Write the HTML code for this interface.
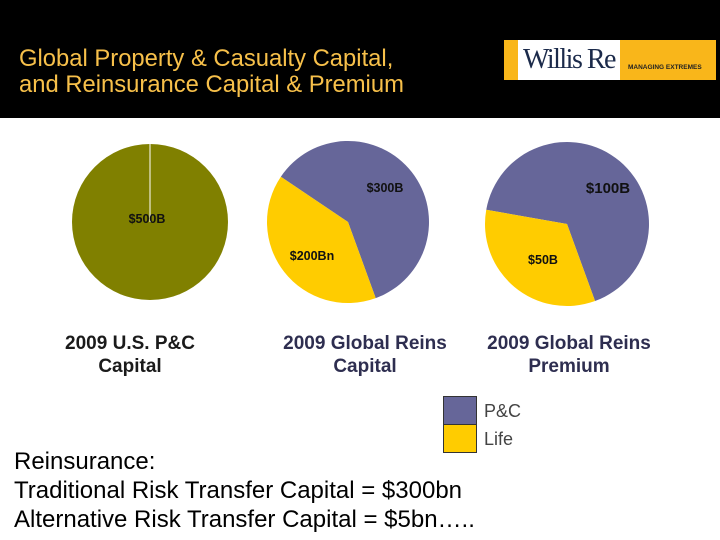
<!DOCTYPE html>
<html><head><meta charset="utf-8"><style>
body{margin:0;width:720px;height:540px;overflow:hidden;background:#fff;font-family:"Liberation Sans",sans-serif;position:relative}
.hdr{position:absolute;left:0;top:0;width:720px;height:118px;background:#000}
.title{position:absolute;left:19px;top:46px;color:#f7c04a;font-size:23.8px;line-height:26px;white-space:nowrap}
.lbl{position:absolute;font-weight:bold;font-size:19px;line-height:23px;text-align:center;white-space:nowrap}
.bottom{position:absolute;left:14px;top:447px;font-size:24px;line-height:29px;color:#000;white-space:nowrap}
</style></head><body>
<div class="hdr"></div>
<div class="title">Global Property &amp; Casualty Capital,<br>and Reinsurance Capital &amp; Premium</div>
<div style="position:absolute;left:504px;top:40px;width:212px;height:40px;background:#f9b61a">
 <div style="position:absolute;left:14px;top:0;width:102px;height:40px;background:#fff;font-family:'Liberation Serif',serif;font-size:28px;color:#1b2a4a;line-height:40px;text-align:center;letter-spacing:-1.5px;white-space:nowrap">Willis Re</div>
 <div style="position:absolute;left:124px;top:24px;font-size:6.5px;font-weight:bold;color:#222;white-space:nowrap">MANAGING EXTREMES</div>
</div>
<svg id="chart" width="720" height="540" style="position:absolute;left:0;top:0"></svg>
<div class="lbl" style="left:40px;top:332px;width:180px;color:#1a1a1a">2009 U.S. P&amp;C<br>Capital</div>
<div class="lbl" style="left:270px;top:332px;width:190px;color:#2e2e50">2009 Global Reins<br>Capital</div>
<div class="lbl" style="left:474px;top:332px;width:190px;color:#2e2e50">2009 Global Reins<br>Premium</div>
<div>
 <div style="position:absolute;left:443px;top:396px;width:32px;height:27px;background:#666699;border:1px solid #333;border-bottom:none"></div>
 <div style="position:absolute;left:443px;top:424px;width:32px;height:27px;background:#ffcc00;border:1px solid #333"></div>
 <div style="position:absolute;left:484px;top:401px;font-size:18px;color:#444">P&amp;C</div>
 <div style="position:absolute;left:484px;top:429px;font-size:18px;color:#444">Life</div>
</div>
<div class="bottom">Reinsurance:<br>Traditional Risk Transfer Capital = $300bn<br>Alternative Risk Transfer Capital = $5bn…..</div>
<script>
const pieNames=["us-pc-capital","global-reins-capital","global-reins-premium"];
const pcValues=[500,300,100];
const lifeValues=[0,200,50];
const pcLabels=["$500B","$300B","$100B"];
const lifeLabels=["","$200Bn","$50B"];
const svg=document.getElementById('chart');
const NS="http://www.w3.org/2000/svg";
const geo=[{cx:150,cy:222,r:78},{cx:348,cy:222,r:81},{cx:567,cy:224,r:82}];
function pt(g,deg,rr){const a=deg*Math.PI/180;return [g.cx+rr*Math.sin(a),g.cy-rr*Math.cos(a)];}
function slice(g,a0,a1,color,name){
  let el;
  if(a1-a0>=359.99){el=document.createElementNS(NS,'circle');el.setAttribute('cx',g.cx);el.setAttribute('cy',g.cy);el.setAttribute('r',g.r);}
  else{const p0=pt(g,a0,g.r),p1=pt(g,a1,g.r);el=document.createElementNS(NS,'path');
    el.setAttribute('d',`M${g.cx},${g.cy}L${p0[0]},${p0[1]}A${g.r},${g.r} 0 ${a1-a0>180?1:0} 1 ${p1[0]},${p1[1]}Z`);}
  el.setAttribute('fill',color);
  
  
  svg.appendChild(el);
}
function label(x,y,t,size,name){const el=document.createElementNS(NS,'text');el.setAttribute('x',x);el.setAttribute('y',y);
  el.setAttribute('font-size',size);el.setAttribute('font-weight','bold');el.setAttribute('text-anchor','middle');el.setAttribute('fill','#111');
  el.setAttribute('font-family','Liberation Sans, sans-serif');el.textContent=t;
  
  
  svg.appendChild(el);}
const start=160;
const pcOffsets=[[-3,-4],[37,-35],[41,-36]];
const lifeOffsets=[[0,0],[-36,34],[-24,36]];
pieNames.forEach((n,i)=>{
  const g=geo[i],tot=pcValues[i]+lifeValues[i];
  const lifeDeg=lifeValues[i]/tot*360;
  const pcStart=start+lifeDeg,pcEnd=start+360;
  slice(g,pcStart,pcEnd,i==0?'#808000':'#666699','slice-pc-'+n);
  if(lifeValues[i]>0) slice(g,start,start+lifeDeg,'#ffcc00','slice-life-'+n);
  else{const ln=document.createElementNS(NS,'line');ln.setAttribute('x1',g.cx);ln.setAttribute('y1',g.cy-g.r);ln.setAttribute('x2',g.cx);ln.setAttribute('y2',g.cy);ln.setAttribute('stroke','#fff');ln.setAttribute('stroke-width','1');
    
    
    svg.appendChild(ln);}
  label(g.cx+pcOffsets[i][0],g.cy+pcOffsets[i][1]+5,pcLabels[i],i==2?15:12.5,'label-pc-'+n);
  if(lifeValues[i]>0){label(g.cx+lifeOffsets[i][0],g.cy+lifeOffsets[i][1]+4,lifeLabels[i],12.5,'label-life-'+n);}
});
</script>
</body></html>
